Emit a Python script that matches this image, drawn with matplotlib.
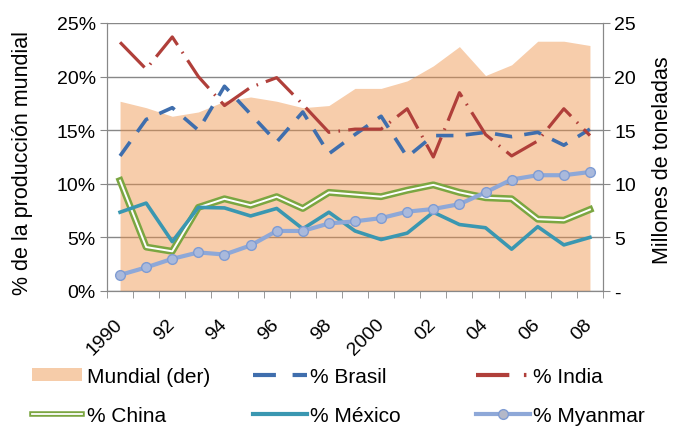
import numpy as np
import matplotlib
matplotlib.use("Agg")
from matplotlib import pyplot as plt
from matplotlib.lines import Line2D
from matplotlib.patches import Patch
from matplotlib.legend_handler import HandlerTuple
from matplotlib.ticker import FuncFormatter

plt.rcParams['font.family'] = ['Liberation Sans', 'DejaVu Sans']

years = list(range(1990, 2009))
year_labels = ['1990', '92', '94', '96', '98', '2000', '02', '04', '06', '08']

# millones de toneladas (eje derecho)
mundial = [17.7, 17.1, 16.3, 16.7, 17.7, 18.1, 17.7, 17.1, 17.3, 18.9,
           18.9, 19.6, 21.0, 22.8, 20.1, 21.1, 23.3, 23.3, 22.9]
# % de la produccion mundial
brasil = [12.6, 16.0, 17.1, 15.0, 19.1, 16.5, 13.9, 16.7, 12.8, 14.6,
          16.3, 12.5, 14.5, 14.5, 14.8, 14.4, 14.8, 13.6, 15.1]
india = [23.2, 20.7, 23.7, 20.0, 17.3, 19.0, 19.9, 17.4, 14.8, 15.1,
         15.1, 17.0, 12.5, 18.5, 14.6, 12.6, 14.0, 17.0, 14.5]
china = [10.3, 4.1, 3.7, 7.8, 8.6, 8.0, 8.8, 7.7, 9.2, 9.0,
         8.8, 9.4, 9.9, 9.2, 8.7, 8.6, 6.7, 6.6, 7.6]
mexico = [7.35, 8.2, 4.6, 7.8, 7.75, 7.0, 7.7, 5.8, 7.35, 5.6,
          4.8, 5.4, 7.35, 6.2, 5.9, 3.9, 6.0, 4.3, 5.0]
myanmar = [1.5, 2.2, 3.0, 3.6, 3.4, 4.25, 5.6, 5.6, 6.3, 6.5,
           6.8, 7.4, 7.65, 8.1, 9.2, 10.4, 10.8, 10.8, 11.1]

c_area = '#EE9045'
c_brasil = '#3F6EAD'
c_india = '#B03F3A'
c_china = '#7BA641'
c_mexico = '#3A97B1'
c_myanmar = '#8EA8D8'
c_axis = '#888888'

x = np.arange(len(years))

fig = plt.figure(figsize=(6.73, 4.27), dpi=100)
ax2 = fig.add_axes([107/673, 1-292/427, 496/673, 268/427])
ax = ax2.twinx()
ax.set_position(ax2.get_position())
ax.set_zorder(ax2.get_zorder() + 1)
ax.patch.set_visible(False)

# area on the right-hand axis, grid under it
ax2.fill_between(x, 0, mundial, color=c_area, alpha=0.45, lw=0, zorder=2)
ax2.set_ylim(0, 25)
ax2.set_yticks(np.arange(0, 26, 5))
ax2.yaxis.grid(True, color=c_axis, lw=1, zorder=1)
ax2.set_axisbelow(True)
ax2.yaxis.tick_right()
ax2.yaxis.set_major_formatter(FuncFormatter(lambda v, p: '-' if v == 0 else '%d' % v))

# the lines on the left axis
ax.yaxis.tick_left()
ax.plot(x, brasil, color=c_brasil, lw=2.6, dashes=(4.8, 3.4), zorder=5)
ax.plot(x, india, color=c_india, lw=2.3, dashes=(11, 2.6, 0.5, 2.6), zorder=6)
ax.plot(x, china, color=c_china, lw=5, solid_joinstyle='round', zorder=3)
ax.plot(x, china, color='white', lw=1.4, solid_joinstyle='round', zorder=3)
ax.plot(x, mexico, color=c_mexico, lw=2.6, zorder=4)
ax.plot(x, myanmar, color=c_myanmar, lw=3, marker='o', ms=7, mfc='#A9B9DC',
        mec='#7F9CD3', mew=1, zorder=4)
ax.set_ylim(0, 25)
ax.set_yticks(np.arange(0, 26, 5))
ax.yaxis.set_major_formatter(FuncFormatter(lambda v, p: '%d%%' % v))

for a in (ax, ax2):
    a.set_xlim(-0.5, len(years) - 0.5)
    for s in a.spines.values():
        s.set_color(c_axis)
    a.spines['top'].set_visible(False)
    a.tick_params(axis='y', length=5, color=c_axis, labelsize=14, pad=3)

ax2.set_xticks(x[::2])
ax2.set_xticklabels(year_labels, rotation=45, ha='right', va='center',
                    rotation_mode='anchor')
ax2.set_xticks(np.arange(-0.5, len(years), 1), minor=True)
ax2.tick_params(axis='x', which='major', length=0, labelsize=14, pad=22)
ax2.tick_params(axis='x', which='minor', length=5, color=c_axis)

fig.text(23/673, 1-163/427, '% de la producción mundial', rotation=90,
         ha='center', va='center', fontsize=15.5)
fig.text(663/673, 1-160/427, 'Millones de toneladas', rotation=90,
         ha='center', va='center', fontsize=15.5)

# legend, three columns
h_mundial = Patch(facecolor='#F6CCA9', edgecolor='none')
h_brasil = Line2D([], [], color=c_brasil, lw=3, dashes=(5.5, 4))
h_india = Line2D([], [], color=c_india, lw=3, dashes=(8, 3.5, 0.6, 4))
h_china = (Line2D([], [], color=c_china, lw=4), Line2D([], [], color='white', lw=1.3))
h_mexico = Line2D([], [], color=c_mexico, lw=3)
h_myanmar = Line2D([], [], color=c_myanmar, lw=3, marker='o', ms=7, mfc='#B4B8C8',
                   mec='#7F9CD3')

cols = [([h_mundial, h_china], ['Mundial (der)', '% China'], 32, 2.4, 0.25),
        ([h_brasil, h_mexico], ['% Brasil', '% México'], 253, 2.6, 0.15),
        ([h_india, h_myanmar], ['% India', '% Myanmar'], 476, 2.6, 0.15)]
for hs, labs, xl, hl, tp in cols:
    fig.legend(hs, labs, loc='upper left', bbox_to_anchor=(xl/673, 1-368/427),
               frameon=False, fontsize=15, borderpad=0, borderaxespad=0,
               handlelength=hl, handletextpad=tp, labelspacing=0.95,
               handleheight=0.6, numpoints=1,
               handler_map={tuple: HandlerTuple(ndivide=1)})

fig.savefig('out.png', dpi=100)
